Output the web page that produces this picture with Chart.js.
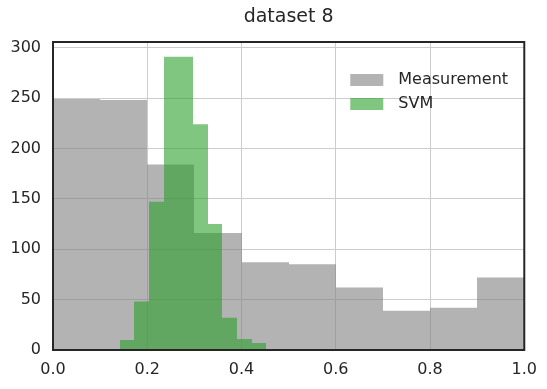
<!DOCTYPE html>
<html lang="en">
<head>
    <meta charset="UTF-8">
    <title>dataset 8</title>
    <style>
        html, body {
            margin: 0;
            padding: 0;
            background: #ffffff;
        }

        .chart-box {
            width: 547px;
            height: 389px;
        }
    </style>
</head>
<body>
    <div class="chart-box">
        <canvas id="histChart"></canvas>
    </div>

    <script src="https://cdn.jsdelivr.net/npm/chart.js@4.4.1/dist/chart.umd.min.js"></script>
    <script>
        // Measurement histogram: bin centres (width 0.1) and counts
        const measBins = [0.05, 0.15, 0.25, 0.35, 0.45, 0.55, 0.65, 0.75, 0.85, 0.95];
        const measCounts = [249, 248, 184, 116, 87, 85, 62, 39, 42, 72];

        // SVM histogram: bin centres and counts
        const svmBins = [0.1570, 0.1881, 0.2193, 0.2504, 0.2816, 0.3127, 0.3439, 0.3750, 0.4062, 0.4373];
        const svmCounts = [10, 48, 147, 291, 291, 224, 125, 32, 11, 7];

        const xTicks = [0, 0.2, 0.4, 0.6, 0.8, 1.0];
        const yTicks = [0, 50, 100, 150, 200, 250, 300];

        const titleText = "dataset 8";
        const textColor = "#262626";
        const fontFamily = "'DejaVu Sans', sans-serif";

        const toPoints = (xs, ys) => xs.map((x, i) => ({ x: x, y: ys[i] }));

        // snap bar edges to whole pixels so neighbouring bins meet without seams
        const snapBars = {
            id: "snapBars",
            beforeDatasetsDraw(chart) {
                chart.data.datasets.forEach((ds, i) => {
                    chart.getDatasetMeta(i).data.forEach((bar) => {
                        const left = Math.round(bar.x - bar.width / 2);
                        const right = Math.round(bar.x + bar.width / 2);
                        bar.x = (left + right) / 2;
                        bar.width = right - left;
                    });
                });
            },
        };

        // title centred over the plot area
        const plotTitle = {
            id: "plotTitle",
            afterDraw(chart) {
                const ctx = chart.ctx;
                const a = chart.chartArea;
                ctx.save();
                ctx.font = "19px " + fontFamily;
                ctx.fillStyle = textColor;
                ctx.textAlign = "center";
                ctx.textBaseline = "middle";
                ctx.fillText(titleText, (a.left + a.right) / 2, 17);
                ctx.restore();
            },
        };

        // legend drawn inside the plot, top right
        const innerLegend = {
            id: "innerLegend",
            afterDatasetsDraw(chart) {
                const ctx = chart.ctx;
                const area = chart.chartArea;
                const x0 = area.right - 174;
                const y0 = area.top + 38;
                ctx.save();
                ctx.font = "16px " + fontFamily;
                ctx.textBaseline = "middle";
                ctx.textAlign = "left";
                chart.data.datasets.forEach((ds, i) => {
                    const y = y0 + i * 24;
                    ctx.fillStyle = ds.backgroundColor;
                    ctx.fillRect(x0, y - 6, 33, 12);
                    ctx.fillStyle = textColor;
                    ctx.fillText(ds.label, x0 + 48, y);
                });
                ctx.restore();
            },
        };

        // dark frame round the whole plot area
        const frame = {
            id: "frame",
            afterDatasetsDraw(chart) {
                const ctx = chart.ctx;
                const a = chart.chartArea;
                ctx.save();
                ctx.strokeStyle = textColor;
                ctx.lineWidth = 2;
                ctx.strokeRect(a.left, a.top, a.right - a.left, a.bottom - a.top);
                ctx.restore();
            },
        };

        new Chart(document.getElementById("histChart"), {
            type: "bar",
            data: {
                datasets: [
                    {
                        label: "Measurement",
                        data: toPoints(measBins, measCounts),
                        xAxisID: "x",
                        backgroundColor: "rgba(128, 128, 128, 0.6)",
                        borderWidth: 0,
                        inflateAmount: 0,
                        grouped: false,
                        order: 1,
                        barPercentage: 1,
                        categoryPercentage: 1,
                    },
                    {
                        label: "SVM",
                        data: toPoints(svmBins, svmCounts),
                        xAxisID: "x2",
                        backgroundColor: "rgba(44, 160, 44, 0.6)",
                        borderWidth: 0,
                        inflateAmount: 0,
                        grouped: false,
                        order: 0,
                        barPercentage: 1,
                        categoryPercentage: 1,
                    },
                ],
            },
            options: {
                responsive: true,
                maintainAspectRatio: false,
                animation: false,
                layout: {
                    padding: { left: 0, right: 20, top: 42, bottom: 0 },
                },
                plugins: {
                    legend: { display: false },
                    tooltip: { enabled: false },
                    title: { display: false },
                },
                scales: {
                    x: {
                        type: "linear",
                        min: 0,
                        max: 1,
                        offset: false,
                        afterFit: (scale) => { scale.height = 39; },
                        afterBuildTicks: (scale) => { scale.ticks = xTicks.map((v) => ({ value: v })); },
                        grid: { color: "#cccccc", lineWidth: 1, drawTicks: false, offset: false },
                        border: { display: false },
                        ticks: {
                            color: textColor,
                            font: { family: fontFamily, size: 16 },
                            padding: 10,
                            maxRotation: 0,
                            callback: (v) => v.toFixed(1),
                        },
                    },
                    x2: {
                        type: "linear",
                        min: 0,
                        max: 1,
                        offset: false,
                        display: false,
                        grid: { offset: false },
                        ticks: { stepSize: 0.2 },
                    },
                    y: {
                        min: 0,
                        max: 305.6,
                        afterFit: (scale) => { scale.width = 53; },
                        afterBuildTicks: (scale) => { scale.ticks = yTicks.map((v) => ({ value: v })); },
                        grid: { color: "#cccccc", lineWidth: 1, drawTicks: false },
                        border: { display: false },
                        ticks: {
                            color: textColor,
                            font: { family: fontFamily, size: 16 },
                            padding: 12,
                        },
                    },
                },
            },
            plugins: [snapBars, plotTitle, innerLegend, frame],
        });
    </script>
</body>
</html>
